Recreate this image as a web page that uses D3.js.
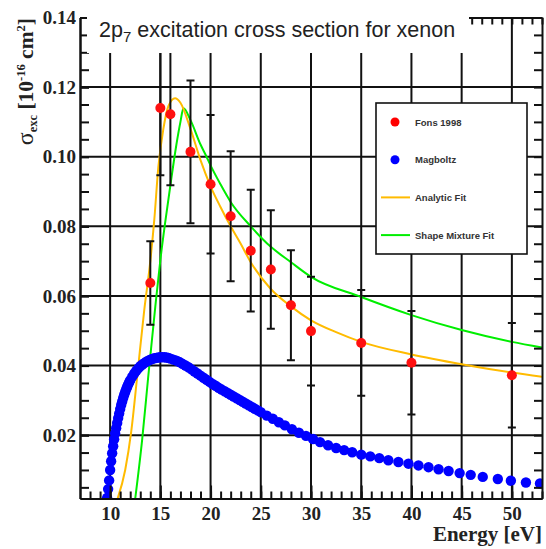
<!DOCTYPE html>
<html>
<head>
<meta charset="utf-8">
<script src="https://cdn.jsdelivr.net/npm/d3@7"></script>
<style>
  html, body { margin: 0; padding: 0; background: #fff; }
  svg { display: block; }
</style>
</head>
<body>
<script>
// Fons 1998 measurements: energy [eV], cross section [1e-16 cm^2], uncertainty
const fonsE   = [14, 15, 16, 18, 20, 22, 24, 26, 28, 30, 35, 40, 50];
const fonsV   = [0.0637, 0.1140, 0.1122, 0.1014, 0.0921, 0.0829, 0.0730, 0.0676, 0.0573, 0.0499, 0.0465, 0.0408, 0.0372];
const fonsErr = [0.0120, 0.0193, 0.0204, 0.0205, 0.0199, 0.0187, 0.0175, 0.0170, 0.0158, 0.0156, 0.0152, 0.0149, 0.0150];

// Magboltz cross section
const magE = [9.7, 9.8, 9.9, 10.0, 10.1, 10.2, 10.3, 10.4, 10.5, 10.6, 10.7, 10.8, 10.9, 11.0, 11.1, 11.2,
              11.3, 11.4, 11.5, 11.6, 11.7, 11.8, 11.9, 12.0,
              12.2, 12.4, 12.6, 12.8, 13.0, 13.2, 13.4, 13.6, 13.8, 14.0, 14.2, 14.4, 14.6, 14.8, 15.0, 15.2,
              15.4, 15.6, 15.8, 16.0,
              16.3, 16.6, 16.9, 17.2, 17.5, 17.8, 18.1, 18.4, 18.7, 19.0, 19.3, 19.6, 19.9, 20.2, 20.5, 20.8,
              21.1, 21.4, 21.7, 22.0, 22.3, 22.6, 22.9, 23.2, 23.5, 23.8, 24.1, 24.4, 24.7, 25.0,
              25.6, 26.2, 26.8, 27.4, 28.1, 28.8, 29.5, 30.2, 30.9, 31.7, 32.5, 33.3, 34.1, 35.0,
              35.9, 36.8, 37.7, 38.7, 39.7, 40.7, 41.7, 42.7, 43.7, 44.8, 45.9, 47.1, 48.6, 49.9,
              51.4, 52.8];
const magV = [0.0020, 0.0045, 0.0070, 0.0100, 0.0125, 0.0148, 0.0168, 0.0188, 0.0205, 0.0220, 0.0235, 0.0249, 0.0262, 0.0275, 0.0287, 0.0297,
              0.0307, 0.0316, 0.0324, 0.0332, 0.0339, 0.0346, 0.0352, 0.0358,
              0.0368, 0.0377, 0.0385, 0.0392, 0.0398, 0.0403, 0.0407, 0.0411, 0.0414, 0.0417, 0.0419, 0.0421, 0.0422, 0.0423, 0.0424, 0.0424,
              0.0424, 0.0423, 0.0422, 0.0420,
              0.0417, 0.0414, 0.0410, 0.0405, 0.0400, 0.0395, 0.0389, 0.0383, 0.0377, 0.0371, 0.0365, 0.0359, 0.0353, 0.0347, 0.0342, 0.0336,
              0.0331, 0.0326, 0.0321, 0.0316, 0.0311, 0.0306, 0.0301, 0.0296, 0.0291, 0.0286, 0.0281, 0.0276, 0.0271, 0.0266,
              0.0256, 0.0247, 0.0237, 0.0228, 0.0217, 0.0207, 0.0198, 0.0189, 0.0180, 0.0171, 0.0163, 0.0157, 0.0151, 0.0144,
              0.0139, 0.0134, 0.0128, 0.0123, 0.0118, 0.0113, 0.0108, 0.0102, 0.0097, 0.0091, 0.0086, 0.0080, 0.0074, 0.0069,
              0.0064, 0.0061];

// Analytic fit curve
const anaE = [10.75, 11.5, 12.1, 12.7, 13.4, 14.0, 14.4, 14.8, 15.3, 15.8, 16.46, 17.0, 18.0, 19.0, 20.0, 21.0, 22.0, 23.0, 24.0, 26.0, 28.0, 30.0, 32.5, 35.0, 40.0, 45.0, 50.0, 53.0];
const anaV = [0.0018, 0.0100, 0.0210, 0.0370, 0.0560, 0.0700, 0.0820, 0.0970, 0.1080, 0.1145, 0.1168, 0.1155, 0.1080, 0.0990, 0.0915, 0.0855, 0.0800, 0.0750, 0.0697, 0.0620, 0.0570, 0.0530, 0.0496, 0.0468, 0.0432, 0.0404, 0.0380, 0.0368];

// Shape mixture fit curve
const mixE = [12.5, 13.2, 13.8, 14.5, 15.0, 15.5, 16.0, 16.6, 17.0, 17.3, 18.0, 19.0, 19.6, 20.0, 21.0, 22.0, 24.0, 26.0, 28.0, 30.0, 35.0, 40.0, 45.0, 50.0, 53.0];
const mixV = [0.0018, 0.0190, 0.0370, 0.0570, 0.0703, 0.0815, 0.0918, 0.1035, 0.1100, 0.1139, 0.1105, 0.1035, 0.1000, 0.0975, 0.0920, 0.0870, 0.0800, 0.0741, 0.0697, 0.0655, 0.0597, 0.0545, 0.0502, 0.0468, 0.0452];

// Axis ticks
const xMajor = [10, 15, 20, 25, 30, 35, 40, 45, 50];
const xMinor = d3.range(8, 54, 1);
const yMajor = [0.02, 0.04, 0.06, 0.08, 0.10, 0.12, 0.14];
const yMinor = d3.range(0.005, 0.1401, 0.005);

const legendItems = [
  {label: "Fons 1998", kind: "dot", color: "#ff0000"},
  {label: "Magboltz", kind: "dot", color: "#0000ff"},
  {label: "Analytic Fit", kind: "line", color: "#ffbb00"},
  {label: "Shape Mixture Fit", kind: "line", color: "#00ee00"}
];

const W = 546, H = 549;
const L = 80, R = 542, T = 17.5, B = 498.5;

const svg = d3.select("body").append("svg").attr("width", W).attr("height", H);

const x = d3.scaleLinear().domain([7, 53]).range([L, R]);
const y = d3.scaleLinear().domain([0.0018, 0.14]).range([B, T]);

svg.append("defs").append("clipPath").attr("id", "frame")
  .append("rect").attr("x", L).attr("y", T).attr("width", R - L).attr("height", B - T);

// grid
const grid = svg.append("g").attr("stroke", "#111").attr("stroke-width", 2);
grid.selectAll("line.v").data(xMajor).join("line")
  .attr("x1", d => x(d)).attr("x2", d => x(d)).attr("y1", T).attr("y2", B);
grid.selectAll("line.h").data(yMajor.filter(v => v < 0.139)).join("line")
  .attr("x1", L).attr("x2", R).attr("y1", d => y(d)).attr("y2", d => y(d));

const plot = svg.append("g").attr("clip-path", "url(#frame)");

// fits
const line = (ex, vy) => d3.line().x(i => x(ex[i])).y(i => y(vy[i])).curve(d3.curveMonotoneX)(d3.range(ex.length));
plot.append("path").attr("d", line(mixE, mixV)).attr("fill", "none").attr("stroke", "#00ee00").attr("stroke-width", 2);
plot.append("path").attr("d", line(anaE, anaV)).attr("fill", "none").attr("stroke", "#ffbb00").attr("stroke-width", 2);

// Magboltz points
plot.append("g").attr("fill", "#0000ff").selectAll("circle").data(d3.range(magE.length)).join("circle")
  .attr("cx", i => x(magE[i])).attr("cy", i => y(magV[i])).attr("r", 5.2);

// error bars
const eb = plot.append("g").attr("stroke", "#111").attr("stroke-width", 2);
fonsE.forEach((e, i) => {
  const cx = x(e), y0 = y(fonsV[i] - fonsErr[i]), y1 = y(fonsV[i] + fonsErr[i]);
  eb.append("line").attr("x1", cx).attr("x2", cx).attr("y1", y0).attr("y2", y1);
  eb.append("line").attr("x1", cx - 4).attr("x2", cx + 4).attr("y1", y0).attr("y2", y0);
  eb.append("line").attr("x1", cx - 4).attr("x2", cx + 4).attr("y1", y1).attr("y2", y1);
});

// Fons points
plot.append("g").attr("fill", "#ff1010").selectAll("circle").data(d3.range(fonsE.length)).join("circle")
  .attr("cx", i => x(fonsE[i])).attr("cy", i => y(fonsV[i])).attr("r", 5);

// axes
const axisStyle = g => {
  g.selectAll("path.domain").attr("stroke", "#111").attr("stroke-width", 2);
  g.selectAll(".tick line").attr("stroke", "#111").attr("stroke-width", 2);
};
svg.append("g").attr("transform", `translate(0,${B})`)
  .call(d3.axisBottom(x).tickValues(xMinor).tickSize(-7).tickSizeOuter(0).tickFormat(""))
  .call(axisStyle);
svg.append("g").attr("transform", `translate(0,${B})`)
  .call(d3.axisBottom(x).tickValues(xMajor).tickSize(-13).tickSizeOuter(0).tickPadding(8))
  .call(axisStyle)
  .call(g => g.selectAll("text").attr("font-family", "Liberation Serif").attr("font-weight", "bold")
    .attr("font-size", 19).attr("fill", "#222"));

svg.append("g").attr("transform", `translate(0,${T})`)
  .call(d3.axisTop(x).tickValues(xMinor).tickSize(-7).tickSizeOuter(0).tickFormat(""))
  .call(axisStyle);

svg.append("g").attr("transform", `translate(${L},0)`)
  .call(d3.axisLeft(y).tickValues(yMinor).tickSize(-9).tickSizeOuter(0).tickFormat(""))
  .call(axisStyle);
svg.append("g").attr("transform", `translate(${L},0)`)
  .call(d3.axisLeft(y).tickValues(yMajor).tickSize(-9).tickSizeOuter(0).tickPadding(4).tickFormat(d3.format(".2f")))
  .call(axisStyle)
  .call(g => g.selectAll("text").attr("font-family", "Liberation Serif").attr("font-weight", "bold")
    .attr("font-size", 19).attr("fill", "#222").attr("x", -4));
svg.append("g").attr("transform", `translate(${R},0)`)
  .call(d3.axisRight(y).tickValues(yMinor).tickSize(-8).tickSizeOuter(0).tickFormat(""))
  .call(axisStyle);

// title pad
svg.append("rect").attr("x", 87).attr("y", 0).attr("width", 469 - 87).attr("height", 53).attr("fill", "#fff");
const title = svg.append("text").attr("x", 99).attr("y", 37)
  .attr("font-family", "Liberation Sans").attr("font-size", 21.5).attr("fill", "#222");
title.append("tspan").text("2p");
title.append("tspan").attr("font-size", 15).attr("dy", 5).text("7");
title.append("tspan").attr("dy", -5).text(" excitation cross section for xenon");

// axis titles
svg.append("text").attr("x", R).attr("y", 541).attr("text-anchor", "end")
  .attr("font-family", "Liberation Serif").attr("font-weight", "bold").attr("font-size", 21).attr("fill", "#222")
  .text("Energy [eV]");

const yt = svg.append("text").attr("transform", "translate(33,18) rotate(-90)").attr("text-anchor", "end")
  .attr("font-family", "Liberation Serif").attr("font-weight", "bold").attr("font-size", 21.5).attr("fill", "#222");
yt.append("tspan").attr("font-weight", "normal").attr("font-size", 24).text("σ");
yt.append("tspan").attr("font-size", 12.5).attr("dy", 4).text("exc");
yt.append("tspan").attr("dy", -4).text(" [10");
yt.append("tspan").attr("font-size", 12.5).attr("dy", -8).text("-16");
yt.append("tspan").attr("dy", 8).text(" cm");
yt.append("tspan").attr("font-size", 12.5).attr("dy", -8).text("2");
yt.append("tspan").attr("dy", 8).text("]");

// legend
const lg = svg.append("g");
lg.append("rect").attr("x", 376).attr("y", 103).attr("width", 151).attr("height", 151)
  .attr("fill", "#fff").attr("stroke", "#111").attr("stroke-width", 1.6);
legendItems.forEach((d, i) => {
  const cy = 122 + i * 37.7;
  if (d.kind === "dot") {
    lg.append("circle").attr("cx", 395).attr("cy", cy).attr("r", 4.5).attr("fill", d.color);
  } else {
    lg.append("line").attr("x1", 381).attr("x2", 410).attr("y1", cy).attr("y2", cy)
      .attr("stroke", d.color).attr("stroke-width", 2);
  }
  lg.append("text").attr("x", 415).attr("y", cy + 3.5)
    .attr("font-family", "Liberation Sans").attr("font-weight", "bold").attr("font-size", 9.5).attr("fill", "#333")
    .text(d.label);
});
</script>
</body>
</html>
